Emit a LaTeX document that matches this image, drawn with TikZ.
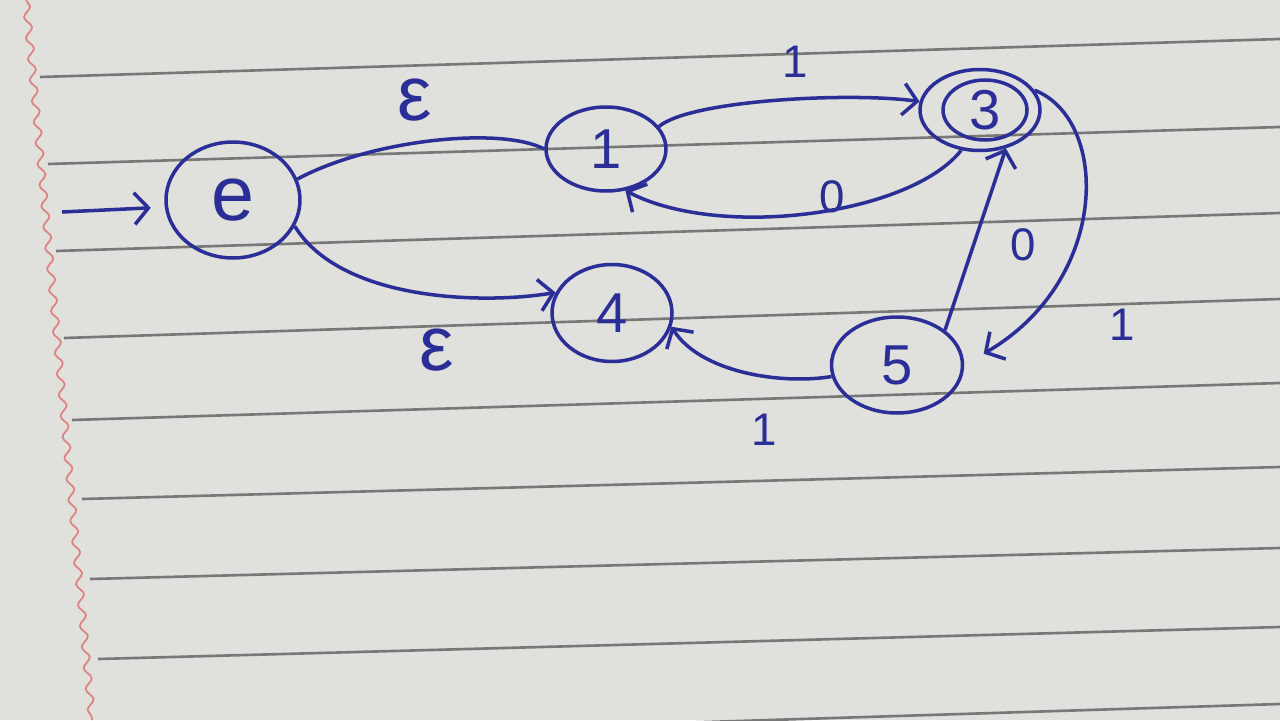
\documentclass[tikz,border=0pt]{standalone}
\usepackage{fontspec}
\setmainfont{Liberation Sans}
\usetikzlibrary{shapes.geometric,arrows.meta,decorations.pathmorphing}
\definecolor{ink}{RGB}{42,46,150}
\definecolor{paper}{RGB}{224,224,220}
\definecolor{rulegray}{RGB}{120,120,118}
\definecolor{marginred}{RGB}{222,130,130}
\begin{document}
\begin{tikzpicture}[x=0.02cm,y=-0.02cm,
  state/.style={ellipse,draw=ink,line width=2pt,inner sep=0pt,text=ink,font=\fontsize{32}{36}\selectfont},
  lab/.style={text=ink,font=\fontsize{26}{30}\selectfont},
  epslab/.style={text=ink,font=\fontsize{44}{48}\selectfont},
  edge/.style={draw=ink,line width=2pt},
  tip/.style={-{Straight Barb[length=8pt,width=18pt]}},
  ruleline/.style={draw=rulegray,line width=1.5pt}]
\fill[paper] (0,0) rectangle (1280,720);
\useasboundingbox (0,0) rectangle (1280,720);
% ruled paper
\draw[ruleline] (40,77) -- (1280,39);
\draw[ruleline] (48,164) -- (1280,127);
\draw[ruleline] (56,251) -- (1280,213);
\draw[ruleline] (64,338) -- (1280,299);
\draw[ruleline] (72,420) -- (1280,383);
\draw[ruleline] (82,499) -- (1280,467);
\draw[ruleline] (90,579) -- (1280,548);
\draw[ruleline] (98,659) -- (1280,627);
\draw[ruleline] (100,741) -- (1280,704);
\draw[marginred,line width=1pt,decorate,decoration={snake,amplitude=2pt,segment length=12pt}] (26,0) -- (92,720);
% states
\node[state,minimum width=2.68cm,minimum height=2.32cm,font=\fontsize{44}{48}\selectfont] (e) at (233,200) {e};
\node[state,minimum width=2.4cm,minimum height=1.68cm] (n1) at (606,149) {1};
\node[state,minimum width=1.68cm,minimum height=1.2cm] (n3i) at (985,110) {3};
\node[state,minimum width=2.4cm,minimum height=1.62cm] (n3) at (980,110) {};
\node[state,minimum width=2.4cm,minimum height=1.94cm] (n4) at (612,313) {4};
\node[state,minimum width=2.62cm,minimum height=1.92cm] (n5) at (897,365) {5};
\coordinate (s) at (62,212);
% transitions
\draw[edge,tip,shorten >=0.28cm] (s) -- (e.186);
\draw[edge] (e.18) .. controls (370,140) and (500,126) .. (n1.west);
\draw[edge,tip] (e.-23) .. controls (340,300) and (480,305) .. (n4.160);
\draw[edge,tip] (n1.23) .. controls (690,100) and (850,92) .. (n3.172);
\draw[edge,tip] (n3.-115) .. controls (910,215) and (720,240) .. (n1.-65);
\draw[edge,tip] (n5.36) -- (n3.-56);
\draw[edge,tip,shorten >=0.45cm] (n3.20) .. controls (1110,120) and (1110,280) .. (n5.east);
\draw[edge,tip] (n5.190) .. controls (780,385) and (700,372) .. (n4.-13);
% labels
\node[epslab] (l1) at (415,100) {ε};
\node[epslab] (l2) at (437,350) {ε};
\node[lab] (l3) at (795,62) {1};
\node[lab] (l4) at (832,197) {0};
\node[lab] (l5) at (1023,245) {0};
\node[lab] (l6) at (1122,325) {1};
\node[lab] (l7) at (764,430) {1};
\end{tikzpicture}
\end{document}
